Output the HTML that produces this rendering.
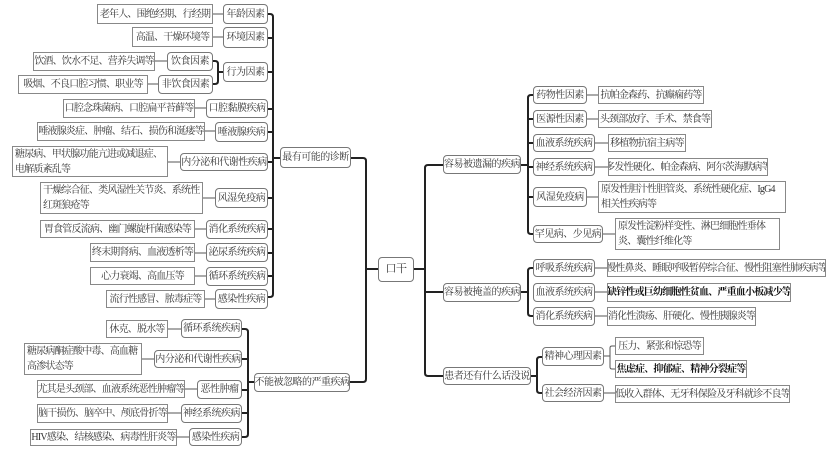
<!DOCTYPE html>
<html><head><meta charset="utf-8"><style>
html,body{margin:0;padding:0;background:#fff;}
body{width:830px;height:450px;position:relative;overflow:hidden;font-family:"Liberation Serif","Noto Serif CJK SC","Noto Sans CJK SC",serif;color:#333;}
.b{position:absolute;box-sizing:border-box;border:1px solid #888;background:#fff;display:flex;align-items:center;justify-content:center;font-size:10px;line-height:15px;white-space:nowrap;overflow:hidden;letter-spacing:-0.8px;}
.n{border-radius:4px;border-color:#777;letter-spacing:-0.5px;}
.l{justify-content:center;padding:0 1px;}
.m{white-space:normal;justify-content:flex-start;text-align:left;padding:0 2px;}
.bold{font-weight:bold;color:#111;}
svg{position:absolute;left:0;top:0;}
</style></head><body>
<svg width="830" height="450" fill="none">
<g stroke="#222" stroke-width="2" stroke-linecap="round">
<path d="M268 14 H270 Q273 14 273 17 V294 Q273 297 270 297 H268"/>
<path d="M268 38 H273 M268 72 H273 M268 109 H273 M268 132 H273 M268 162 H273 M268 198 H273 M268 229 H273 M268 253 H273 M268 276 H273 M273 158 H280"/>
<path d="M242 329 H245 Q248 329 248 332 V434 Q248 437 245 437 H242"/>
<path d="M242 359 H248 M242 390 H248 M242 413 H248 M248 382 H254"/>
<path d="M351 158 H363 Q366 158 366 161 V379 Q366 382 363 382 H350 M366 269 H378"/>
<path d="M414 269 H425 M443 165 H428 Q425 165 425 168 V373 Q425 376 428 376 H443 M425 292 H443"/>
<path d="M521 165 H528 M533 95 H531 Q528 95 528 98 V231 Q528 234 531 234 H533 M528 119 H533 M528 143 H533 M528 167 H533 M528 197 H533"/>
<path d="M521 292 H528 M533 268 H531 Q528 268 528 271 V313 Q528 316 531 316 H533"/>
<path d="M531 376 H537 M542 357 H540 Q537 357 537 360 V390 Q537 393 540 393 H542"/>
<path d="M213 61 H215 Q218 61 218 64 V81 Q218 84 215 84 H213 M218 72 H223"/>
</g>
<g stroke="#555" stroke-width="1">
<path d="M213 14 H223 M213 37 H223 M155 61 H167 M148 84 H158 M195 108 H206 M205 131 H215 M168 162 H180 M203 198 H215 M195 229 H206 M195 253 H206 M195 276 H206 M205 299 H215"/>
<path d="M168 329 H181 M142 359 H154 M185 389 H197 M168 413 H181 M177 437 H189"/>
<path d="M587 95 H598 M587 119 H598 M595 143 H608 M595 167 H608 M587 197 H598 M603 234 H615"/>
<path d="M595 268 H607 M595 292 H607 M595 316 H607 M595 393 H615"/>
<path d="M604 356 H610 M615 346 H612 Q610 346 610 348 V367 Q610 369 612 369 H615"/>
</g>
</svg>

<div class="b l" style="left:97px;top:4px;width:116px;height:20px">老年人、围绝经期、行经期</div>
<div class="b n" style="left:223px;top:4px;width:45px;height:20px">年龄因素</div>
<div class="b l" style="left:132px;top:27px;width:81px;height:20px">高温、干燥环境等</div>
<div class="b n" style="left:223px;top:27px;width:45px;height:21px">环境因素</div>
<div class="b l" style="left:33px;top:52px;width:122px;height:19px">饮酒、饮水不足、营养失调等</div>
<div class="b n" style="left:167px;top:52px;width:46px;height:19px">饮食因素</div>
<div class="b l" style="left:18px;top:75px;width:130px;height:19px">吸烟、不良口腔习惯、职业等</div>
<div class="b n" style="left:158px;top:75px;width:55px;height:19px">非饮食因素</div>
<div class="b n" style="left:223px;top:62px;width:45px;height:20px">行为因素</div>
<div class="b l" style="left:63px;top:99px;width:132px;height:19px">口腔念珠菌病、口腔扁平苔藓等</div>
<div class="b n" style="left:206px;top:99px;width:62px;height:19px">口腔黏膜疾病</div>
<div class="b l" style="left:37px;top:122px;width:168px;height:19px">唾液腺炎症、肿瘤、结石、损伤和涎瘘等</div>
<div class="b n" style="left:215px;top:122px;width:53px;height:20px">唾液腺疾病</div>
<div class="b m" style="left:12px;top:146px;width:156px;height:31px">糖尿病、甲状腺功能亢进或减退症、电解质紊乱等</div>
<div class="b n" style="left:180px;top:153px;width:88px;height:18px">内分泌和代谢性疾病</div>
<div class="b n" style="left:280px;top:147px;width:71px;height:21px">最有可能的诊断</div>
<div class="b m" style="left:40px;top:182px;width:163px;height:32px">干燥综合征、类风湿性关节炎、系统性红斑狼疮等</div>
<div class="b n" style="left:215px;top:188px;width:53px;height:20px">风湿免疫病</div>
<div class="b l" style="left:40px;top:220px;width:155px;height:18px">胃食管反流病、幽门螺旋杆菌感染等</div>
<div class="b n" style="left:206px;top:220px;width:62px;height:19px">消化系统疾病</div>
<div class="b l" style="left:90px;top:243px;width:105px;height:19px">终末期肾病、血液透析等</div>
<div class="b n" style="left:206px;top:243px;width:62px;height:19px">泌尿系统疾病</div>
<div class="b l" style="left:90px;top:267px;width:105px;height:18px">心力衰竭、高血压等</div>
<div class="b n" style="left:206px;top:267px;width:62px;height:19px">循环系统疾病</div>
<div class="b l" style="left:106px;top:290px;width:99px;height:18px">流行性感冒、脓毒症等</div>
<div class="b n" style="left:215px;top:289px;width:53px;height:20px">感染性疾病</div>

<div class="b l" style="left:106px;top:320px;width:62px;height:18px">休克、脱水等</div>
<div class="b n" style="left:181px;top:319px;width:61px;height:19px">循环系统疾病</div>
<div class="b m" style="left:24px;top:343px;width:118px;height:32px">糖尿病酮症酸中毒、高血糖高渗状态等</div>
<div class="b n" style="left:154px;top:350px;width:88px;height:18px">内分泌和代谢性疾病</div>
<div class="b l" style="left:37px;top:380px;width:148px;height:18px">尤其是头颈部、血液系统恶性肿瘤等</div>
<div class="b n" style="left:197px;top:380px;width:45px;height:19px">恶性肿瘤</div>
<div class="b l" style="left:37px;top:404px;width:131px;height:19px">脑干损伤、脑卒中、颅底骨折等</div>
<div class="b n" style="left:181px;top:404px;width:61px;height:19px">神经系统疾病</div>
<div class="b l" style="left:30px;top:429px;width:147px;height:17px">HIV感染、结核感染、病毒性肝炎等</div>
<div class="b n" style="left:189px;top:428px;width:53px;height:18px">感染性疾病</div>
<div class="b n" style="left:254px;top:373px;width:96px;height:19px">不能被忽略的严重疾病</div>

<div class="b n" style="left:378px;top:257px;width:36px;height:25px;font-size:11px">口干</div>

<div class="b n" style="left:443px;top:155px;width:78px;height:19px">容易被遗漏的疾病</div>
<div class="b n" style="left:533px;top:86px;width:54px;height:18px">药物性因素</div>
<div class="b l" style="left:598px;top:86px;width:106px;height:18px">抗帕金森药、抗癫痫药等</div>
<div class="b n" style="left:533px;top:110px;width:54px;height:18px">医源性因素</div>
<div class="b l" style="left:598px;top:110px;width:114px;height:18px">头颈部放疗、手术、禁食等</div>
<div class="b n" style="left:533px;top:134px;width:62px;height:18px">血液系统疾病</div>
<div class="b l" style="left:608px;top:134px;width:78px;height:18px">移植物抗宿主病等</div>
<div class="b n" style="left:533px;top:158px;width:62px;height:18px">神经系统疾病</div>
<div class="b l" style="left:608px;top:158px;width:160px;height:18px">多发性硬化、帕金森病、阿尔茨海默病等</div>
<div class="b n" style="left:533px;top:187px;width:54px;height:20px">风湿免疫病</div>
<div class="b m" style="left:598px;top:181px;width:188px;height:32px">原发性胆汁性胆管炎、系统性硬化症、IgG4相关性疾病等</div>
<div class="b n" style="left:533px;top:225px;width:70px;height:18px">罕见病、少见病</div>
<div class="b m" style="left:615px;top:218px;width:165px;height:32px">原发性淀粉样变性、淋巴细胞性垂体炎、囊性纤维化等</div>

<div class="b n" style="left:443px;top:283px;width:78px;height:19px">容易被掩盖的疾病</div>
<div class="b n" style="left:533px;top:259px;width:62px;height:18px">呼吸系统疾病</div>
<div class="b l" style="left:607px;top:259px;width:219px;height:18px">慢性鼻炎、睡眠呼吸暂停综合征、慢性阻塞性肺疾病等</div>
<div class="b n" style="left:533px;top:283px;width:62px;height:19px">血液系统疾病</div>
<div class="b l bold" style="left:607px;top:283px;width:184px;height:19px">缺锌性或巨幼细胞性贫血、严重血小板减少等</div>
<div class="b n" style="left:533px;top:307px;width:62px;height:19px">消化系统疾病</div>
<div class="b l" style="left:607px;top:307px;width:149px;height:19px">消化性溃疡、肝硬化、慢性胰腺炎等</div>

<div class="b n" style="left:443px;top:367px;width:88px;height:18px">患者还有什么话没说</div>
<div class="b n" style="left:542px;top:347px;width:62px;height:19px">精神心理因素</div>
<div class="b l" style="left:615px;top:337px;width:89px;height:18px">压力、紧张和惊恐等</div>
<div class="b l bold" style="left:615px;top:360px;width:132px;height:18px">焦虑症、抑郁症、精神分裂症等</div>
<div class="b n" style="left:542px;top:384px;width:62px;height:18px">社会经济因素</div>
<div class="b l" style="left:615px;top:385px;width:175px;height:18px">低收入群体、无牙科保险及牙科就诊不良等</div>
</body></html>
